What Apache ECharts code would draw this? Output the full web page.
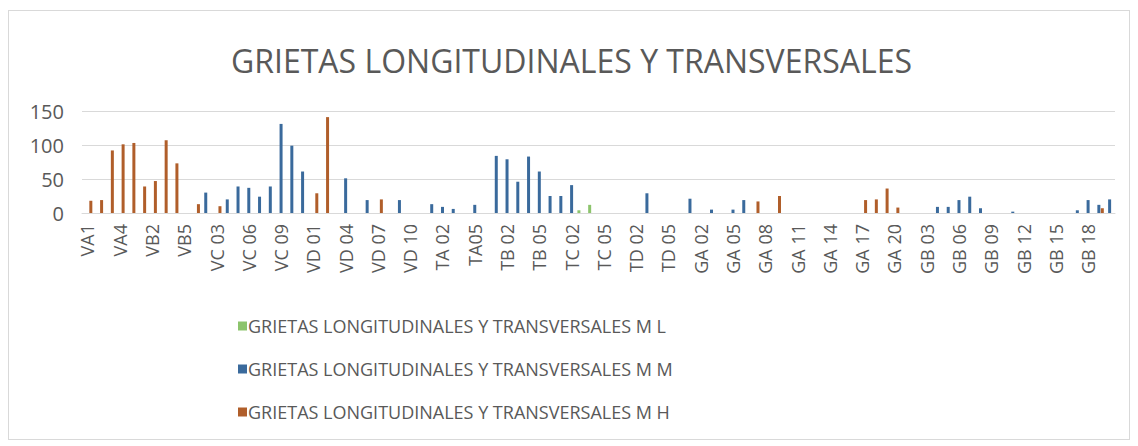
<!DOCTYPE html>
<html>
<head>
<meta charset="utf-8">
<script src="https://cdn.jsdelivr.net/npm/echarts@6/dist/echarts.min.js"></script>
<style>
  html, body { margin: 0; padding: 0; background: #fff; }
  #frame { position: absolute; left: 8px; top: 10px; width: 1120px; height: 428px; border: 1px solid #d9d9d9; }
  #box { position: absolute; left: 0; top: 0; width: 1138px; height: 446px; }
</style>
</head>
<body>
<div id="frame"></div>
<div id="box"></div>
<script>
// tramos (categorias del eje x)
const categorias = [
  'VA1','VA2','VA3','VA4','VA5',
  'VB1','VB2','VB3','VB4','VB5',
  'VC 01','VC 02','VC 03','VC 04','VC 05','VC 06','VC 07','VC 08','VC 09','VC 10','VC 11',
  'VD 01','VD 02','VD 03','VD 04','VD 05','VD 06','VD 07','VD 08','VD 09','VD 10','VD 11',
  'TA 01','TA 02','TA 03','TA 04','TA05','TA 06',
  'TB 01','TB 02','TB 03','TB 04','TB 05','TB 06',
  'TC 01','TC 02','TC 03','TC 04','TC 05','TC 06',
  'TD 01','TD 02','TD 03','TD 04','TD 05','TD 06',
  'GA 01','GA 02','GA 03','GA 04','GA 05','GA 06','GA 07','GA 08','GA 09','GA 10',
  'GA 11','GA 12','GA 13','GA 14','GA 15','GA 16','GA 17','GA 18','GA 19','GA 20',
  'GB 01','GB 02','GB 03','GB 04','GB 05','GB 06','GB 07','GB 08','GB 09','GB 10',
  'GB 11','GB 12','GB 13','GB 14','GB 15','GB 16','GB 17','GB 18','GB 19','GB 20'
]

// severidad baja (L)
const valoresML = [
  null,null,null,null,null, null,null,null,null,null,
  null,null,null,null,null,null,null,null,null,null,null,
  null,null,null,null,null,null,null,null,null,null,null,
  null,null,null,null,null,null,
  null,null,null,null,null,null,
  null,null,4,12,null,null,
  null,null,null,null,null,null,
  null,null,null,null,null,null,null,null,null,null,
  null,null,null,null,null,null,null,null,null,null,
  null,null,null,null,null,null,null,null,null,null,
  null,null,null,null,null,null,null,null,null,null
]

// severidad media (M)
const valoresMM = [
  null,null,null,null,null, null,null,null,null,null,
  null,30,null,20,39,37,24,39,131,99,61,
  null,null,null,51,null,19,null,null,19,null,null,
  13,9,6,null,12,null,
  84,79,46,83,61,25,
  25,41,null,null,null,null,
  null,null,29,null,null,null,
  21,null,5,null,5,19,null,null,null,null,
  null,null,null,null,null,null,null,null,null,null,
  null,null,null,9,9,19,24,7,null,null,
  2,null,null,null,null,null,4,19,12,20
]

// severidad alta (H)
const valoresMH = [
  18,19,92,101,103, 39,47,107,73,null,
  13,null,10,null,null,null,null,null,null,null,null,
  29,141,null,null,null,null,20,null,null,null,null,
  null,null,null,null,null,null,
  null,null,null,null,null,null,
  null,null,null,null,null,null,
  null,null,null,null,null,null,
  null,null,null,null,null,null,17,null,25,null,
  null,null,null,null,null,null,19,20,36,8,
  null,null,null,null,null,null,null,null,null,null,
  null,null,null,null,null,null,null,null,7,null
]

const ejeY = [0, 50, 100, 150]

const fuente = "'Open Sans', sans-serif"
const nombres = [
  'GRIETAS LONGITUDINALES Y TRANSVERSALES M L',
  'GRIETAS LONGITUDINALES Y TRANSVERSALES M M',
  'GRIETAS LONGITUDINALES Y TRANSVERSALES M H'
]
const colores = ['#8cc46c', '#3a6a9c', '#b05e2a']

const myChart = echarts.init(document.getElementById('box'), null, { renderer: 'svg' })

const serie = (name, data, color) => ({
  name: name,
  type: 'bar',
  data: data,
  barWidth: 3,
  barGap: '15%',
  itemStyle: { color: color },
  emphasis: { disabled: true }
})

const option = {
  animation: false,
  title: {
    text: 'GRIETAS LONGITUDINALES Y TRANSVERSALES',
    left: 226,
    top: 39,
    textStyle: { color: '#595959', fontSize: 32, fontWeight: 'normal', fontFamily: fuente }
  },
  legend: {
    orient: 'vertical',
    left: 233,
    top: 312,
    itemGap: 25,
    itemWidth: 9,
    itemHeight: 9,
    icon: 'rect',
    textStyle: { color: '#595959', fontSize: 18, fontFamily: fuente, padding: [0, 0, 0, -4] },
    data: nombres
  },
  grid: { left: 82, right: 23, top: 111, bottom: 233 },
  xAxis: [{
    type: 'category',
    data: categorias,
    axisLine: { lineStyle: { color: '#d9d9d9' } },
    axisTick: { show: false },
    axisLabel: {
      interval: 2,
      rotate: 90,
      color: '#595959',
      fontSize: 18,
      margin: 11,
      fontFamily: fuente
    }
  }],
  yAxis: [{
    type: 'value',
    min: ejeY[0],
    max: ejeY[ejeY.length - 1],
    interval: 50,
    axisLine: { show: false },
    axisTick: { show: false },
    splitLine: { lineStyle: { color: '#d9d9d9', width: 1 } },
    axisLabel: { color: '#595959', fontSize: 20, margin: 18, fontFamily: fuente }
  }],
  series: [
    serie(nombres[0], valoresML, colores[0]),
    serie(nombres[1], valoresMM, colores[1]),
    serie(nombres[2], valoresMH, colores[2])
  ]
}

myChart.setOption(option)
window.onresize = function () {
  myChart.resize()
}
</script>
</body>
</html>
